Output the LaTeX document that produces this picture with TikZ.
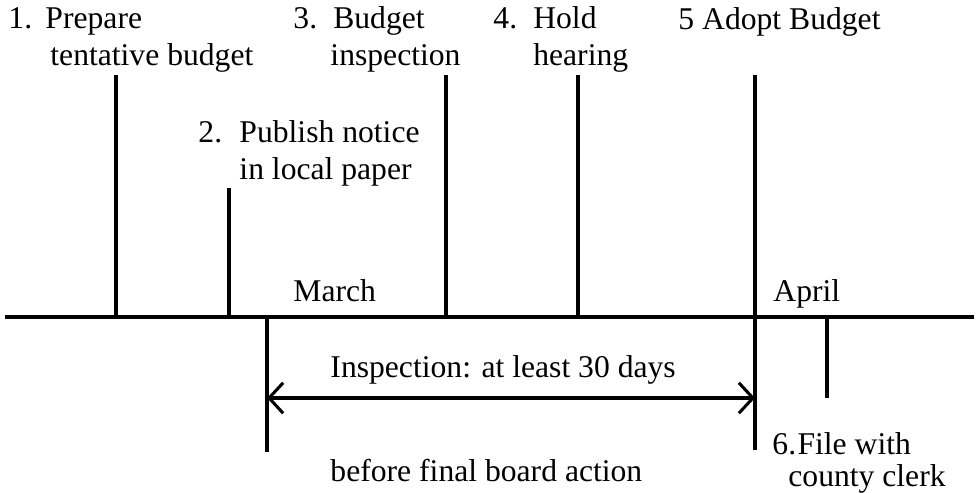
\documentclass[tikz,border=0pt]{standalone}
\usepackage{fontspec}
\setmainfont{Liberation Serif}
\usetikzlibrary{arrows.meta}

\begin{document}
\begin{tikzpicture}[x=0.015cm, y=-0.015cm,
    every node/.style={font=\fontsize{13.5}{15.4}\selectfont, inner sep=0pt, align=left, anchor=base west},
    axisline/.style={line width=1.7pt},
    pole/.style={line width=1.7pt},
    span/.style={{Straight Barb[length=6pt,width=13pt]}-{Straight Barb[length=6pt,width=13pt]}, line width=1.3pt}
]
    \useasboundingbox (0,0) rectangle (976,492);

    % Time axis
    \coordinate (axisW) at (5,317);
    \coordinate (axisE) at (974,317);
    \draw[axisline] (axisW) -- (axisE);

    % Step markers above the axis
    \coordinate (p1) at (116,317);
    \coordinate (p2) at (229,317);
    \coordinate (p3) at (446,317);
    \coordinate (p4) at (578,317);
    \coordinate (p5) at (755,317);
    \draw[pole] (p1) -- ++(0,-242);
    \draw[pole] (p2) -- ++(0,-129);
    \draw[pole] (p3) -- ++(0,-242);
    \draw[pole] (p4) -- ++(0,-242);
    \draw[pole] (p5) -- ++(0,-242);

    % Markers below the axis
    \coordinate (insStart) at (267,452);
    \coordinate (insEnd) at (755,450);
    \coordinate (fileEnd) at (827,398);
    \draw[pole] (267,317) -- (insStart);
    \draw[pole] (p5) -- (insEnd);
    \draw[pole] (827,317) -- (fileEnd);

    % Inspection period
    \coordinate (spanW) at (267,398);
    \coordinate (spanE) at (755,398);
    \draw[span] (spanW) -- (spanE);

    % Step labels (base = last line)
    \node (step1) at (8,65) {\makebox[15.8pt][l]{1.}Prepare\\\hspace*{17.9pt}tentative budget};
    \node (step2) at (198,179) {\makebox[17.5pt][l]{2.}Publish notice\\\hspace*{17.5pt}in local paper};
    \node (step3) at (293,65) {\makebox[17pt][l]{3.}Budget\\\hspace*{15.8pt}inspection};
    \node (step4) at (493,65) {\makebox[17pt][l]{4.}Hold\\\hspace*{17pt}hearing};
    \node (step5) at (678,29) {5 Adopt Budget};
    \node (step6) at (772,486) {\makebox[10.7pt][l]{6.}File with\\[-2pt]\hspace*{6.8pt}county clerk};

    % Months
    \node (march) at (293,301) {March};
    \node (april) at (773,301) {April};

    % Period notes
    \node (insNote) at (330,377) {Inspection: at least 30 days};
    \node (boardNote) at (330,481) {before final board action};

\end{tikzpicture}
\end{document}
